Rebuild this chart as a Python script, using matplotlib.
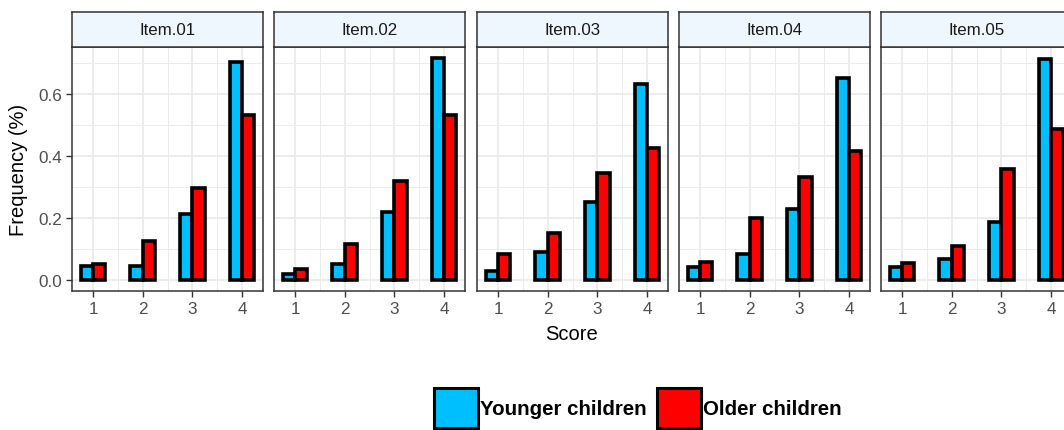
import matplotlib
matplotlib.use("Agg")
import matplotlib.pyplot as plt
from matplotlib.patches import Patch
from matplotlib.ticker import FixedLocator
import numpy as np

plt.rcParams['font.family'] = ['Liberation Sans', 'DejaVu Sans']

items = ["Item.01", "Item.02", "Item.03", "Item.04", "Item.05"]
scores = [1, 2, 3, 4]
younger = [
    [0.044, 0.044, 0.214, 0.704],
    [0.018, 0.051, 0.218, 0.715],
    [0.029, 0.089, 0.252, 0.633],
    [0.041, 0.084, 0.227, 0.651],
    [0.042, 0.067, 0.186, 0.711],
]
older = [
    [0.050, 0.124, 0.296, 0.532],
    [0.035, 0.117, 0.318, 0.533],
    [0.085, 0.150, 0.345, 0.424],
    [0.059, 0.199, 0.331, 0.415],
    [0.055, 0.109, 0.356, 0.485],
]
series_names = ["Younger children", "Older children"]
series_colors = ["#00BFFF", "#FF0000"]
ytick_vals = [0.0, 0.2, 0.4, 0.6]
ytick_labels = ["0.0", "0.2", "0.4", "0.6"]

W, H = 1064, 431
fig = plt.figure(figsize=(W / 100, H / 100), dpi=100)

def fx(px):
    return px / W

def fy(py):
    return 1 - py / H

panel_left = [72, 274, 477, 679, 881]
panel_w = 191
top, bottom = 48, 292
strip_top = 13

ymax = max(max(max(r) for r in younger), max(max(r) for r in older))
grid_c = "#EBEBEB"
bw = 0.25

for i, name in enumerate(items):
    l = panel_left[i]
    ax = fig.add_axes([fx(l), fy(bottom), panel_w / W, (bottom - top) / H])
    x = np.array(scores, dtype=float)
    ax.bar(x - bw / 2, younger[i], width=bw, color=series_colors[0],
           edgecolor="black", linewidth=2.6, zorder=3)
    ax.bar(x + bw / 2, older[i], width=bw, color=series_colors[1],
           edgecolor="black", linewidth=2.6, zorder=3)
    ax.set_xlim(0.575, 4.425)
    ax.set_ylim(-0.05 * ymax, 1.05 * ymax)
    ax.xaxis.set_major_locator(FixedLocator(scores))
    ax.xaxis.set_minor_locator(FixedLocator([1.5, 2.5, 3.5]))
    ax.yaxis.set_major_locator(FixedLocator(ytick_vals))
    ax.yaxis.set_minor_locator(FixedLocator([0.1, 0.3, 0.5, 0.7]))
    ax.grid(which="major", color=grid_c, linewidth=1.3, zorder=0)
    ax.grid(which="minor", color=grid_c, linewidth=0.7, zorder=0)
    ax.set_axisbelow(True)
    for s in ax.spines.values():
        s.set_color("#333333")
        s.set_linewidth(1.1)
    ax.tick_params(which="minor", length=0)
    ax.tick_params(axis="x", which="major", length=4, width=1.0, color="#333333",
                   labelcolor="#4D4D4D", labelsize=12.3, pad=3)
    ax.set_xticklabels([str(s) for s in scores])
    if i == 0:
        ax.tick_params(axis="y", which="major", length=4, width=1.0, color="#333333",
                       labelcolor="#4D4D4D", labelsize=12.3, pad=3)
        ax.set_yticklabels(ytick_labels)
    else:
        ax.tick_params(axis="y", which="major", length=0, labelleft=False)
    # strip
    sax = fig.add_axes([fx(l), fy(top), panel_w / W, (top - strip_top) / H])
    sax.set_facecolor("#EEF6FE")
    sax.set_xticks([])
    sax.set_yticks([])
    for s in sax.spines.values():
        s.set_color("#333333")
        s.set_linewidth(1.1)
    sax.text(0.5, 0.5, name, ha="center", va="center", fontsize=12.2,
             color="#1A1A1A", transform=sax.transAxes)

fig.text(fx(19), fy(170), "Frequency (%)", rotation=90, ha="center", va="center",
         fontsize=14.5, color="black")
fig.text(fx(572), fy(334), "Score", ha="center", va="center", fontsize=14.5, color="black")

handles = [Patch(facecolor=c, edgecolor="black", linewidth=2.2) for c in series_colors]
leg = fig.legend(handles, series_names, loc="center", bbox_to_anchor=(fx(638), fy(409)),
                 ncol=2, frameon=False, handlelength=2.15, handleheight=2.65,
                 handletextpad=0.1, columnspacing=0.5,
                 prop={"weight": "bold", "size": 14.8})

fig.savefig("out.png", dpi=100)
